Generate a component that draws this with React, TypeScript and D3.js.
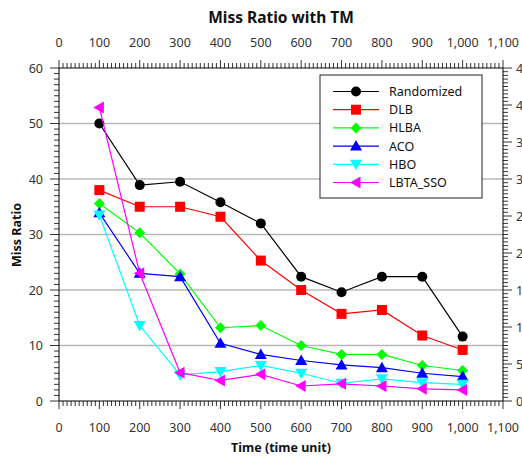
import React from "react";
import * as d3 from "d3";

const xValues = [100, 200, 300, 400, 500, 600, 700, 800, 900, 1000];
const randomized = [50, 38.9, 39.5, 35.8, 32, 22.4, 19.6, 22.4, 22.4, 11.6];
const dlb = [38, 35, 35, 33.2, 25.3, 20, 15.7, 16.4, 11.8, 9.2];
const hlba = [35.6, 30.3, 22.9, 13.2, 13.6, 10, 8.4, 8.4, 6.4, 5.5];
const aco = [33.9, 23, 22.4, 10.4, 8.4, 7.3, 6.5, 6.0, 5.0, 4.4];
const hbo = [33.5, 13.6, 4.7, 5.3, 6.4, 5.0, 3.2, 4.0, 3.3, 3.0];
const lbtaSso = [52.9, 23, 5.1, 3.7, 4.8, 2.7, 3.1, 2.7, 2.2, 2.0];

const seriesNames = ["Randomized", "DLB", "HLBA", "ACO", "HBO", "LBTA_SSO"];
const seriesColors = ["#000000", "#ff0000", "#00ff00", "#0000ff", "#00ffff", "#ff00ff"];
const seriesMarkers = ["circle", "square", "diamond", "up", "down", "left"];
const seriesData = [randomized, dlb, hlba, aco, hbo, lbtaSso];

const xTicks = [0, 100, 200, 300, 400, 500, 600, 700, 800, 900, 1000, 1100];
const yTicks = [0, 10, 20, 30, 40, 50, 60];
const y2Ticks = [0, 5, 10, 15, 20, 25, 30, 35, 40, 45];

const W = 522;
const H = 458;
const L = 59, R = 503, T = 68, B = 401;
const FONT = "'Noto Sans', 'Open Sans', sans-serif";

function Marker({ type, x, y, color }: { type: string; x: number; y: number; color: string }) {
  const s = 5;
  if (type === "circle") return <circle cx={x} cy={y} r={5} fill={color} />;
  if (type === "square") return <rect x={x - s} y={y - s} width={2 * s} height={2 * s} fill={color} />;
  if (type === "diamond")
    return <path d={`M${x},${y - 5.5}L${x + 5.5},${y}L${x},${y + 5.5}L${x - 5.5},${y}Z`} fill={color} />;
  if (type === "up")
    return <path d={`M${x},${y - 6}L${x + 6},${y + 4.5}L${x - 6},${y + 4.5}Z`} fill={color} />;
  if (type === "down")
    return <path d={`M${x},${y + 6}L${x + 6},${y - 4.5}L${x - 6},${y - 4.5}Z`} fill={color} />;
  return <path d={`M${x - 6},${y}L${x + 4.5},${y - 6}L${x + 4.5},${y + 6}Z`} fill={color} />;
}

export default function App() {
  const x = d3.scaleLinear().domain([0, 1100]).range([L, R]);
  const y = d3.scaleLinear().domain([0, 60]).range([B, T]);
  const y2 = d3.scaleLinear().domain([0, 45]).range([B, T]);
  const fmt = d3.format(",");
  const line = d3
    .line<number>()
    .x((_, i) => x(xValues[i]))
    .y((d) => y(d));

  const xMinor = d3.range(0, 1101, 10);
  const yMinor = d3.range(0, 60.01, 1);
  const y2Minor = d3.range(0, 45.01, 0.5);

  const legX = 320, legY = 75, legW = 162, legH = 123;
  const rowH = 18.2;

  return (
    <svg width={W} height={H} style={{ position: "absolute", left: 0, top: 0, fontFamily: FONT }}>
      <rect width={W} height={H} fill="#fff" />
      <text x={281} y={23} textAnchor="middle" fontSize={15.5} fontWeight="bold" fill="#111">
        Miss Ratio with TM
      </text>
      {/* gridlines */}
      {yTicks.filter((t) => t > 0 && t < 60).map((t) => (
        <line key={t} x1={L} x2={R} y1={y(t)} y2={y(t)} stroke="#b8b8b8" strokeWidth={1.5} />
      ))}
      {/* bottom axis */}
      <line x1={L} x2={R} y1={B} y2={B} stroke="#000" />
      {xMinor.map((t) => (
        <line key={"bm" + t} x1={x(t)} x2={x(t)} y1={B} y2={B + (t % 100 === 0 ? 8 : 5)} stroke="#000" strokeWidth={0.8} />
      ))}
      {xTicks.map((t) => (
        <text key={"bl" + t} x={x(t)} y={432} textAnchor="middle" fontSize={12.5} fill="#333">
          {fmt(t)}
        </text>
      ))}
      {/* top axis */}
      <line x1={L} x2={R} y1={T} y2={T} stroke="#000" />
      {xMinor.map((t) => (
        <line key={"tm" + t} x1={x(t)} x2={x(t)} y1={T} y2={T - (t % 100 === 0 ? 8 : 5)} stroke="#000" strokeWidth={0.8} />
      ))}
      {xTicks.map((t) => (
        <text key={"tl" + t} x={x(t)} y={47} textAnchor="middle" fontSize={12.5} fill="#333">
          {fmt(t)}
        </text>
      ))}
      {/* left axis */}
      <line x1={L} x2={L} y1={T} y2={B} stroke="#000" />
      {yMinor.map((t) => (
        <line key={"lm" + t} x1={L} x2={L - (t % 10 === 0 ? 9 : 5)} y1={y(t)} y2={y(t)} stroke="#000" strokeWidth={0.8} />
      ))}
      {yTicks.map((t) => (
        <text key={"ll" + t} x={43} y={y(t) + 4.5} textAnchor="end" fontSize={12.5} fill="#333">
          {t}
        </text>
      ))}
      {/* right axis */}
      <line x1={R} x2={R} y1={T} y2={B} stroke="#000" />
      {y2Minor.map((t) => (
        <line key={"rm" + t} x1={R} x2={R + (Math.abs(t % 5) < 1e-6 ? 9 : 5)} y1={y2(t)} y2={y2(t)} stroke="#000" strokeWidth={0.8} />
      ))}
      {y2Ticks.map((t) => (
        <text key={"rl" + t} x={516} y={y2(t) + 4.5} textAnchor="start" fontSize={12.5} fill="#333">
          {t}
        </text>
      ))}
      {/* axis titles */}
      <text x={281} y={452} textAnchor="middle" fontSize={12.5} fontWeight="bold" fill="#111">
        Time (time unit)
      </text>
      <text transform={`translate(21,235) rotate(-90)`} textAnchor="middle" fontSize={12.5} fontWeight="bold" fill="#111">
        Miss Ratio
      </text>
      {/* series */}
      {seriesData.map((d, si) => (
        <g key={seriesNames[si]}>
          <path d={line(d) || ""} fill="none" stroke={seriesColors[si]} strokeWidth={1.2} />
          {d.map((v, i) => (
            <Marker key={i} type={seriesMarkers[si]} x={x(xValues[i])} y={y(v)} color={seriesColors[si]} />
          ))}
        </g>
      ))}
      {/* legend */}
      <rect x={legX} y={legY} width={legW} height={legH} fill="#fff" stroke="#222" strokeWidth={1} />
      {seriesNames.map((n, i) => {
        const ry = legY + 16.5 + i * rowH;
        return (
          <g key={n}>
            <line x1={333} x2={379} y1={ry} y2={ry} stroke={seriesColors[i]} strokeWidth={1.2} />
            <Marker type={seriesMarkers[i]} x={356} y={ry} color={seriesColors[i]} />
            <text x={389} y={ry + 4.5} fontSize={12.5} fill="#111">
              {n}
            </text>
          </g>
        );
      })}
    </svg>
  );
}
